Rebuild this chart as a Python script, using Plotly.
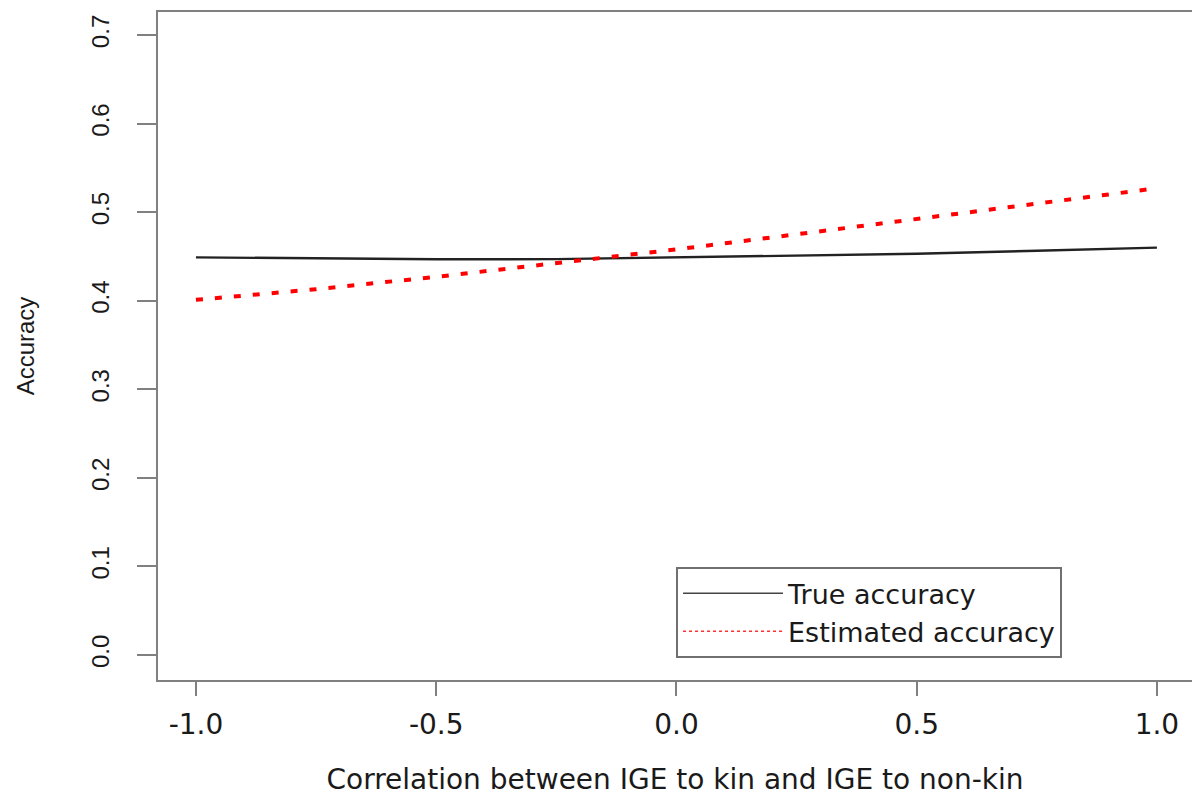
import plotly.graph_objects as go

# Correlation between IGE to kin and IGE to non-kin
corr = [-1.0, -0.75, -0.5, -0.25, 0.0, 0.25, 0.5, 0.75, 1.0]
true_accuracy = [0.4490, 0.4478, 0.4468, 0.4470, 0.4488, 0.4505, 0.4530, 0.4565, 0.4600]
estimated_accuracy = [0.401, 0.413, 0.427, 0.442, 0.458, 0.475, 0.492, 0.509, 0.527]

x_tick_vals = [-1.0, -0.5, 0.0, 0.5, 1.0]
x_tick_text = ["-1.0", "-0.5", "0.0", "0.5", "1.0"]
y_tick_vals = [0.0, 0.1, 0.2, 0.3, 0.4, 0.5, 0.6, 0.7]
y_tick_text = ["0.0", "0.1", "0.2", "0.3", "0.4", "0.5", "0.6", "0.7"]

AXIS_GREY = "#808080"
TEXT = "#1a1a1a"
WIDE_FONT = "DejaVu Sans"
NARROW_FONT = "Liberation Sans"

fig = go.Figure()

# plotted curves (legend handled by the thin sample traces below)
fig.add_trace(go.Scatter(
    x=corr, y=true_accuracy, mode="lines", showlegend=False,
    line=dict(color="#222222", width=2.4),
))
fig.add_trace(go.Scatter(
    x=corr, y=estimated_accuracy, mode="lines", showlegend=False,
    line=dict(color="#ff0000", width=4, dash="7px,12px"),
))

# legend samples drawn with thin lines
fig.add_trace(go.Scatter(
    x=[None], y=[None], mode="lines", name="True accuracy",
    line=dict(color="#444444", width=1.5),
))
fig.add_trace(go.Scatter(
    x=[None], y=[None], mode="lines", name="Estimated accuracy",
    line=dict(color="#ff3030", width=1.5, dash="dot"),
))

fig.update_layout(
    width=1192, height=796,
    margin=dict(l=158, r=0, t=12, b=116, pad=0),
    paper_bgcolor="white", plot_bgcolor="white",
    font=dict(family=WIDE_FONT, color=TEXT),
    legend=dict(
        x=0.501, y=0.169, xanchor="left", yanchor="top",
        bordercolor="#707070", borderwidth=2, bgcolor="white",
        font=dict(family=WIDE_FONT, size=27, color=TEXT),
        itemwidth=100, tracegroupgap=0,
    ),
    xaxis=dict(
        range=[-1.079, 1.073],
        tickvals=x_tick_vals, ticktext=x_tick_text,
        ticks="outside", ticklen=14, tickwidth=2, tickcolor=AXIS_GREY,
        showline=True, linecolor=AXIS_GREY, linewidth=2, mirror=True,
        showgrid=False, zeroline=False, ticklabelstandoff=4,
        tickfont=dict(family=WIDE_FONT, size=28, color=TEXT),
        title=dict(text="Correlation between IGE to kin and IGE to non-kin",
                   font=dict(family=WIDE_FONT, size=28, color=TEXT), standoff=30),
    ),
    yaxis=dict(
        range=[-0.0282, 0.726],
        tickvals=y_tick_vals, ticktext=y_tick_text, tickangle=-90,
        ticks="outside", ticklen=19, tickwidth=2, tickcolor=AXIS_GREY,
        showline=True, linecolor=AXIS_GREY, linewidth=2, mirror=False,
        showgrid=False, zeroline=False, ticklabelstandoff=18,
        tickfont=dict(family=NARROW_FONT, size=24, color=TEXT),
        title=dict(text="Accuracy",
                   font=dict(family=NARROW_FONT, size=24, color=TEXT), standoff=46),
    ),
)

fig.write_html("out.html")
